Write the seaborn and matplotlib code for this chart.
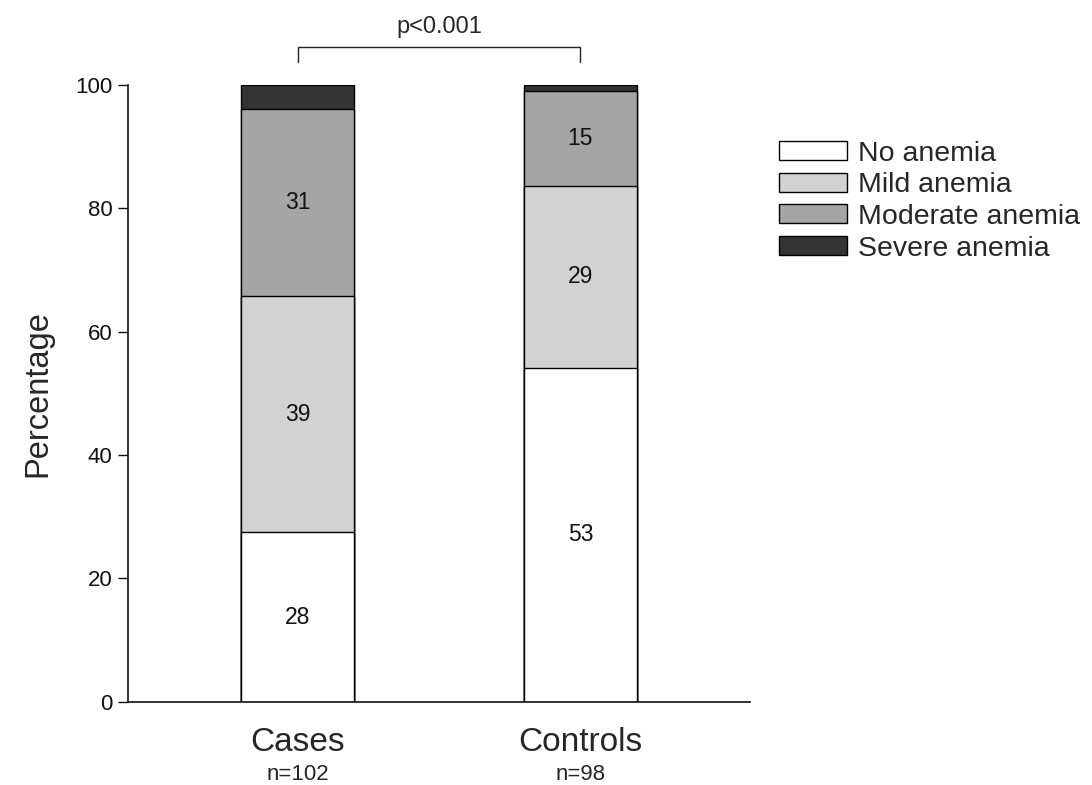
import numpy as np
import pandas as pd
import matplotlib
matplotlib.use("Agg")
import matplotlib.pyplot as plt
import seaborn as sns
from matplotlib.patches import Patch

# Anemia severity counts per group
groups = ["Cases", "Controls"]
group_n = [102, 98]
categories = ["No anemia", "Mild anemia", "Moderate anemia", "Severe anemia"]
cases_counts = [28, 39, 31, 4]
controls_counts = [53, 29, 15, 1]
shown_labels = [True, True, True, False]
p_text = "p<0.001"

colors = ["#ffffff", "#d2d2d2", "#a5a5a5", "#333333"]

sns.set_theme(style="white")
plt.rcParams["font.family"] = ["Liberation Sans", "DejaVu Sans"]

counts = np.array([cases_counts, controls_counts], dtype=float)
pct = counts / np.array(group_n, dtype=float)[:, None] * 100
cum = np.cumsum(pct, axis=1)

fig = plt.figure(figsize=(10.92, 7.85), dpi=100)
ax = fig.add_axes([0.117, 0.106, 0.570, 0.786])

# Stack by overdrawing cumulative totals, tallest first
for j in range(len(categories) - 1, -1, -1):
    df = pd.DataFrame({"group": groups, "value": cum[:, j]})
    sns.barplot(data=df, x="group", y="value", order=groups, color=colors[j],
                saturation=1, width=0.4, edgecolor="black", linewidth=1.0,
                ax=ax, zorder=2)

# Count labels centred in each segment
for i in range(len(groups)):
    for j, cat in enumerate(categories):
        if not shown_labels[j]:
            continue
        lower = cum[i, j - 1] if j > 0 else 0.0
        mid = (lower + cum[i, j]) / 2
        ax.text(i, mid, f"{int(counts[i, j])}", ha="center", va="center",
                fontsize=16.5, color="#111111", zorder=5)

ax.set_xlim(-0.6, 1.6)
ax.set_ylim(0, 100)
ax.set_yticks([0, 20, 40, 60, 80, 100])
ax.set_ylabel("Percentage", fontsize=23.5, labelpad=16)
ax.set_xlabel("")
ax.set_xticks([0, 1])
ax.set_xticklabels(groups, fontsize=24)
ax.tick_params(axis="x", length=0, pad=18)
ax.tick_params(axis="y", direction="out", length=7, width=1, labelsize=16,
               left=True, pad=4, colors="#111111")
for s in ["top", "right"]:
    ax.spines[s].set_visible(False)
for s in ["left", "bottom"]:
    ax.spines[s].set_color("#111111")
    ax.spines[s].set_linewidth(1.2)

# Group sizes beneath the category labels
for i, n in enumerate(group_n):
    ax.annotate(f"n={n}", xy=(i, 0), xycoords=("data", "axes fraction"),
                xytext=(0, -52), textcoords="offset points", ha="center",
                va="center", fontsize=16)

# Significance bracket above the bars
ax.plot([0, 0, 1, 1], [103.7, 106.2, 106.2, 103.7], color="#222222",
        linewidth=1.0, clip_on=False)
ax.text(0.5, 109.3, p_text, ha="center", va="center", fontsize=17)

handles = [Patch(facecolor=c, edgecolor="black", linewidth=1.0) for c in colors]
fig.legend(handles, categories, loc="upper left", bbox_to_anchor=(0.713, 0.821),
           frameon=False, fontsize=20.5, handlelength=2.4, handleheight=0.65,
           labelspacing=0.2, handletextpad=0.4, borderaxespad=0, borderpad=0)

fig.savefig("out.png", dpi=100)
